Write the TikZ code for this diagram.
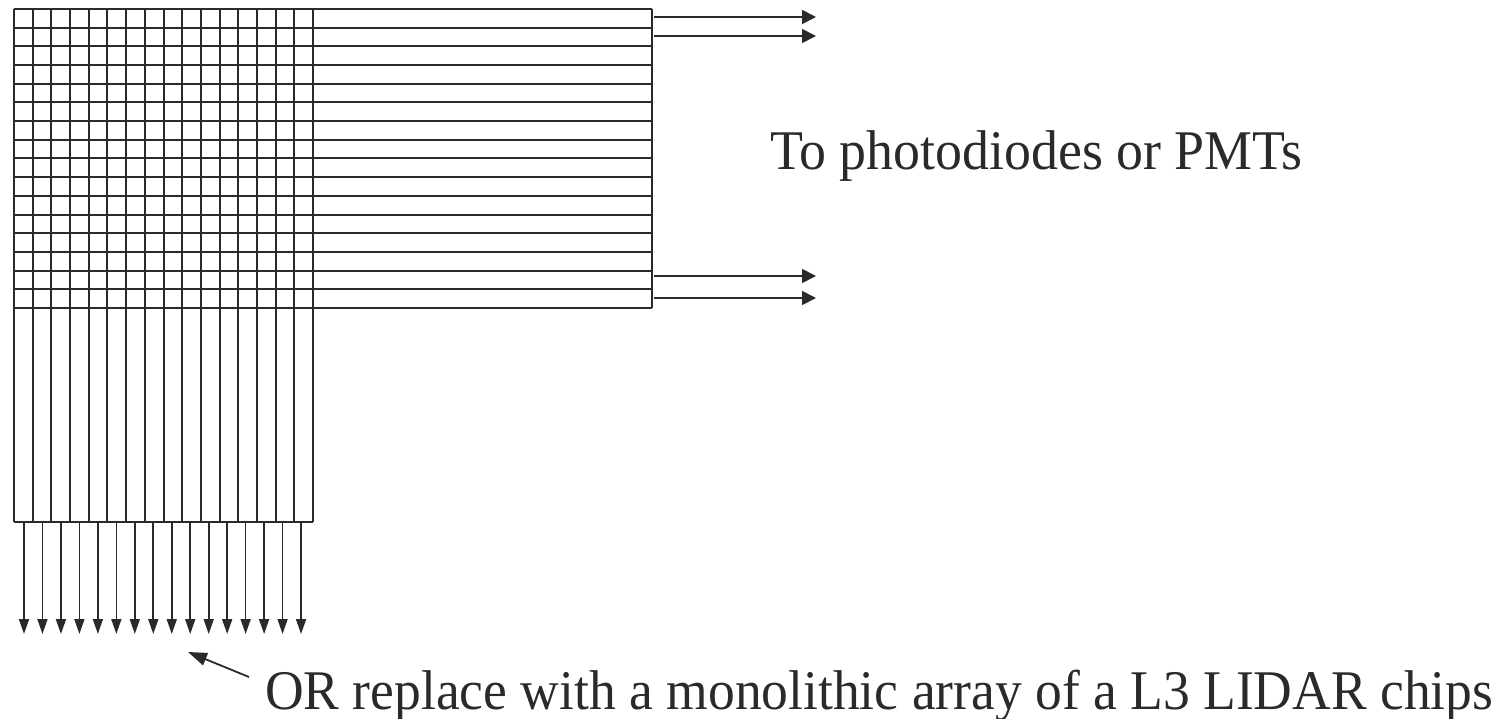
\documentclass[tikz,border=0pt]{standalone}
\usepackage{fontspec}
\setmainfont{Liberation Serif}
\usetikzlibrary{arrows.meta}
\definecolor{ink}{HTML}{2A2A2A}
\begin{document}
\begin{tikzpicture}[x=1pt,y=-1pt,
  gridline/.style={draw=ink,line width=2pt},
  outarrow/.style={draw=ink,line width=1.8pt,-{Triangle[length=14pt,width=14pt]}},
  downarrow/.style={draw=ink,line width=1.7pt,-{Triangle[length=15pt,width=10pt]}},
  diagarrow/.style={draw=ink,line width=1.8pt,-{Triangle[length=19pt,width=13pt]}},
  lbl/.style={text=ink,font=\fontsize{56}{60}\selectfont,inner sep=0pt,anchor=base west}]
\useasboundingbox (0,0) rectangle (1509,719);
% horizontal fibre strip
\foreach \i in {0,...,16} {
  \draw[gridline] (14,{9+\i*18.6875}) -- (652,{9+\i*18.6875});
}
\draw[gridline] (652,9) -- (652,308);
% vertical fibre strip
\foreach \j in {0,...,16} {
  \draw[gridline] ({14+\j*18.6875},9) -- ({14+\j*18.6875},522);
}
\draw[gridline] (14,522) -- (313,522);
% arrows to the right
\foreach \y [count=\k] in {17,36,276,298} {
  \coordinate (rs\k) at (654,\y);
  \coordinate (re\k) at (816,\y);
  \draw[outarrow] (rs\k) -- (re\k);
}
% arrows downward
\foreach \i in {0,...,15} {
  \coordinate (ds\i) at ({24+\i*18.47},521);
  \coordinate (de\i) at ({24+\i*18.47},634);
  \draw[downarrow] (ds\i) -- (de\i);
}
% labels
\node[lbl] (top) at (770,170) {\scalebox{0.962}[1]{To photodiodes or PMTs}};
\node[lbl] (bottom) at (265,709) {\scalebox{0.956}[1]{OR replace with a monolithic array of a L3 LIDAR chips}};
\coordinate (dtail) at (249,677);
\coordinate (dtip) at (188,652);
\draw[diagarrow] (dtail) -- (dtip);
\end{tikzpicture}
\end{document}
